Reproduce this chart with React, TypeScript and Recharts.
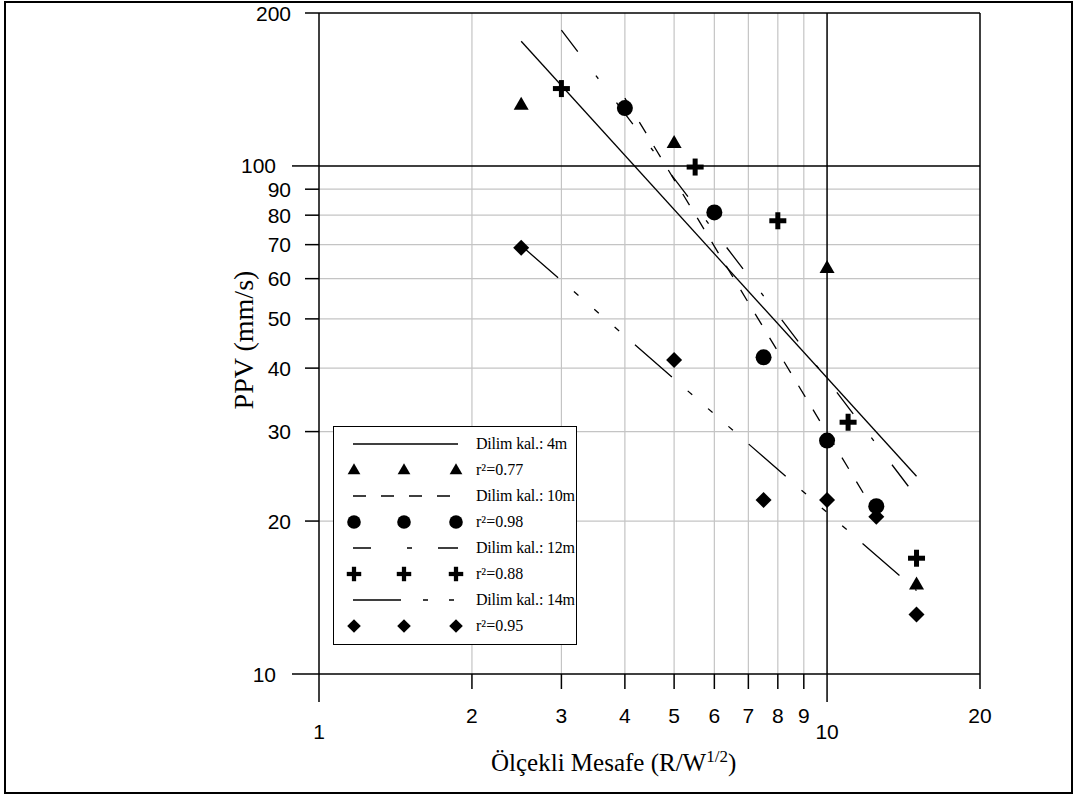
import React from "react";
import { ScatterChart, Scatter, XAxis, YAxis, ReferenceLine, Legend } from "recharts";

type Pt = { x: number; y: number };

const points4m: Pt[] = [
  { x: 2.5, y: 132 },
  { x: 5, y: 111 },
  { x: 10, y: 63 },
  { x: 15, y: 15 },
];
const points10m: Pt[] = [
  { x: 4, y: 130 },
  { x: 6, y: 81 },
  { x: 7.5, y: 42 },
  { x: 10, y: 28.8 },
  { x: 12.5, y: 21.4 },
];
const points12m: Pt[] = [
  { x: 3, y: 142 },
  { x: 5.5, y: 99.5 },
  { x: 8, y: 78 },
  { x: 11, y: 31.3 },
  { x: 15, y: 16.9 },
];
const points14m: Pt[] = [
  { x: 2.5, y: 69 },
  { x: 5, y: 41.5 },
  { x: 7.5, y: 22 },
  { x: 10, y: 22 },
  { x: 12.5, y: 20.4 },
  { x: 15, y: 13.1 },
];

// end points of the fitted power-law lines
const fit4m: Pt[] = [{ x: 2.5, y: 176 }, { x: 15, y: 24.5 }];
const fit10m: Pt[] = [{ x: 4, y: 136 }, { x: 12.5, y: 20.6 }];
const fit12m: Pt[] = [{ x: 3, y: 185 }, { x: 15, y: 22.3 }];
const fit14m: Pt[] = [{ x: 2.5, y: 69.7 }, { x: 15, y: 14.6 }];

const xTicks = [1, 2, 3, 4, 5, 6, 7, 8, 9, 10, 20];
const yTicks = [10, 20, 30, 40, 50, 60, 70, 80, 90, 100, 200];
const xGrid = [2, 3, 4, 5, 6, 7, 8, 9];
const yGrid = [20, 30, 40, 50, 60, 70, 80, 90];

const legendNames = ["Dilim kal.: 4m", "Dilim kal.: 10m", "Dilim kal.: 12m", "Dilim kal.: 14m"];
const legendR2 = ["0.77", "0.98", "0.88", "0.95"];

const SANS = "'Liberation Sans', Arial, sans-serif";
const SERIF = "'Liberation Serif', 'Times New Roman', serif";

const dash10 = "13 15";
const dash12 = "27 30 4 30";
const dash14 = "49 21 6 21 6 21 6 21";

type Kind = "tri" | "circ" | "cross" | "diam";

function marker(kind: Kind, cx: number, cy: number, s = 1) {
  if (kind === "tri")
    return <polygon points={`${cx},${cy - 8 * s} ${cx - 7.5 * s},${cy + 5 * s} ${cx + 7.5 * s},${cy + 5 * s}`} fill="#000" />;
  if (kind === "circ") return <circle cx={cx} cy={cy} r={8 * s} fill="#000" />;
  if (kind === "cross")
    return (
      <g fill="#000">
        <rect x={cx - 8.5 * s} y={cy - 2.5 * s} width={17 * s} height={5 * s} />
        <rect x={cx - 2.5 * s} y={cy - 8.5 * s} width={5 * s} height={17 * s} />
      </g>
    );
  return <polygon points={`${cx},${cy - 8 * s} ${cx + 8 * s},${cy} ${cx},${cy + 8 * s} ${cx - 8 * s},${cy}`} fill="#000" />;
}

const shapeOf = (kind: Kind) => (p: any) => marker(kind, p.cx, p.cy);
const noMark = () => <g />;

const XTick = (props: any) => {
  const { x, y, payload } = props;
  const major = payload.value === 1 || payload.value === 10;
  return (
    <g>
      <line x1={x} x2={x} y1={y} y2={y + (major ? 28 : 15)} stroke="#000" strokeWidth={1.5} />
      <text x={x} y={y + (major ? 57 : 41)} textAnchor="middle" dominantBaseline="central" style={{ fontFamily: SANS, fontSize: 21 }} fill="#000">
        {payload.value}
      </text>
    </g>
  );
};

const YTick = (props: any) => {
  const { x, y, payload } = props;
  const major = payload.value === 10 || payload.value === 100;
  return (
    <g>
      <line x1={x} x2={x - (major ? 27 : 14)} y1={y} y2={y} stroke="#000" strokeWidth={1.5} />
      <text x={x - (major ? 43 : 28)} y={y} textAnchor="end" dominantBaseline="central" style={{ fontFamily: SANS, fontSize: 21 }} fill="#000">
        {payload.value}
      </text>
    </g>
  );
};

const kinds: Kind[] = ["tri", "circ", "cross", "diam"];
const lineDash = ["", dash10, "18 36 5 26 20", "48 22 5 21 5 100"];

function LegendBox() {
  const rows: React.ReactNode[] = [];
  legendNames.forEach((name, i) => {
    rows.push(
      <div key={"l" + i} style={{ height: 26, display: "flex", alignItems: "center" }}>
        <svg width={142} height={26} style={{ flex: "none" }}>
          <line x1={19} x2={124} y1={13} y2={13} stroke="#000" strokeWidth={1.3} strokeDasharray={lineDash[i] || undefined} />
        </svg>
        <span style={{ letterSpacing: -0.2 }}>{name}</span>
      </div>
    );
    rows.push(
      <div key={"m" + i} style={{ height: 26, display: "flex", alignItems: "center" }}>
        <svg width={142} height={26} style={{ flex: "none" }}>
          {marker(kinds[i], 20, 13, 0.85)}
          {marker(kinds[i], 70, 13, 0.85)}
          {marker(kinds[i], 122, 13, 0.85)}
        </svg>
        <span>r²={legendR2[i]}</span>
      </div>
    );
  });
  return (
    <div
      style={{
        width: 244,
        height: 219,
        border: "1px solid #000",
        background: "#fff",
        boxSizing: "border-box",
        paddingTop: 4,
        fontFamily: SERIF,
        fontSize: 16,
        color: "#000",
        lineHeight: 1,
        whiteSpace: "nowrap",
        overflow: "hidden",
      }}
    >
      {rows}
    </div>
  );
}

export default function App() {
  return (
    <div style={{ position: "absolute", left: 0, top: 0, width: 1078, height: 794, background: "#fff" }}>
      <ScatterChart width={1078} height={794} margin={{ top: 13, right: 98, bottom: 30, left: 229 }}>
        {xGrid.map((v) => (
          <ReferenceLine key={"gx" + v} x={v} stroke="#c4c4c4" strokeWidth={1.2} />
        ))}
        {yGrid.map((v) => (
          <ReferenceLine key={"gy" + v} y={v} stroke="#c4c4c4" strokeWidth={1.2} />
        ))}
        <ReferenceLine x={10} stroke="#000" strokeWidth={1.5} />
        <ReferenceLine y={100} stroke="#000" strokeWidth={1.5} />
        <ReferenceLine x={20} stroke="#000" strokeWidth={1.5} />
        <ReferenceLine y={200} stroke="#000" strokeWidth={1.5} />
        <XAxis
          type="number"
          dataKey="x"
          scale="log"
          domain={[1, 20]}
          ticks={xTicks}
          interval={0}
          height={90}
          tickSize={0}
          tickMargin={0}
          tickLine={false}
          tick={<XTick />}
          axisLine={{ stroke: "#000", strokeWidth: 1.5 }}
          allowDataOverflow
          label={{
            content: () => (
              <text x={491} y={771} fontFamily={SERIF} fontSize={25} fill="#000">
                <tspan>Ölçekli Mesafe (R/W</tspan>
                <tspan dy={-9} fontSize={17}>1/2</tspan>
                <tspan dy={9}>)</tspan>
              </text>
            ),
          }}
        />
        <YAxis
          type="number"
          dataKey="y"
          scale="log"
          domain={[10, 200]}
          ticks={yTicks}
          interval={0}
          width={90}
          tickSize={0}
          tickMargin={0}
          tickLine={false}
          tick={<YTick />}
          axisLine={{ stroke: "#000", strokeWidth: 1.5 }}
          allowDataOverflow
          label={{
            content: () => (
              <text
                x={243}
                y={340}
                transform="rotate(-90 243 340)"
                textAnchor="middle"
                dominantBaseline="central"
                fontFamily={SERIF}
                fontSize={28}
                fill="#000"
              >
                PPV (mm/s)
              </text>
            ),
          }}
        />
        <Scatter data={fit4m} line={{ stroke: "#000", strokeWidth: 1.3 }} lineType="joint" shape={noMark} isAnimationActive={false} />
        <Scatter data={fit10m} line={{ stroke: "#000", strokeWidth: 1.3, strokeDasharray: dash10 }} lineType="joint" shape={noMark} isAnimationActive={false} />
        <Scatter data={fit12m} line={{ stroke: "#000", strokeWidth: 1.3, strokeDasharray: dash12 }} lineType="joint" shape={noMark} isAnimationActive={false} />
        <Scatter data={fit14m} line={{ stroke: "#000", strokeWidth: 1.3, strokeDasharray: dash14 }} lineType="joint" shape={noMark} isAnimationActive={false} />
        <Scatter data={points4m} shape={shapeOf("tri")} isAnimationActive={false} />
        <Scatter data={points10m} shape={shapeOf("circ")} isAnimationActive={false} />
        <Scatter data={points12m} shape={shapeOf("cross")} isAnimationActive={false} />
        <Scatter data={points14m} shape={shapeOf("diam")} isAnimationActive={false} />
        <Legend
          layout="vertical"
          align="center"
          verticalAlign="middle"
          content={() => <LegendBox />}
          wrapperStyle={{ position: "absolute", left: 333, top: 426, width: 244, height: 219 }}
        />
      </ScatterChart>
      <div
        style={{
          position: "absolute",
          left: 4,
          top: 1,
          width: 1069,
          height: 793,
          border: "2px solid #000",
          boxSizing: "border-box",
          pointerEvents: "none",
        }}
      />
    </div>
  );
}
